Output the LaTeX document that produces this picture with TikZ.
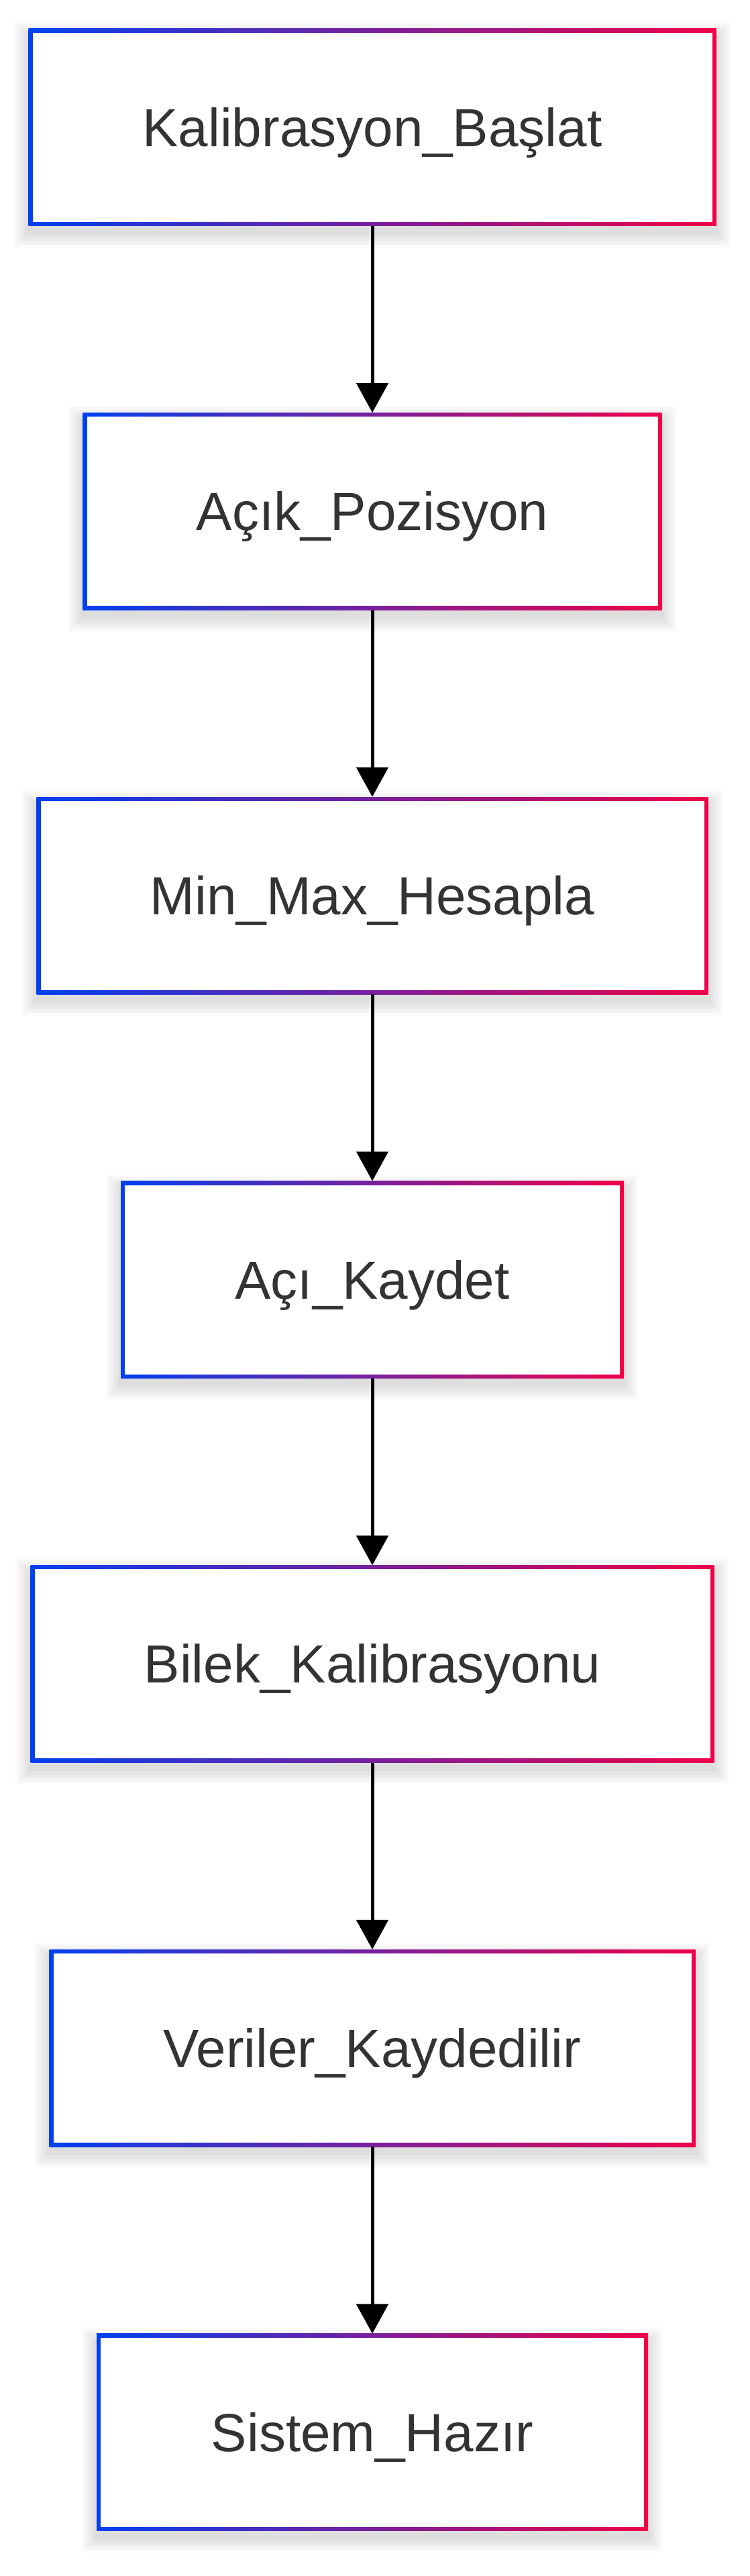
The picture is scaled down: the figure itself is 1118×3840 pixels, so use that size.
\documentclass[tikz,border=0pt]{standalone}
\usepackage{fontspec}
\setmainfont{Liberation Sans}
\usetikzlibrary{arrows.meta,backgrounds}
\definecolor{cBlue}{HTML}{0040F0}
\definecolor{cRed}{HTML}{F00048}
\definecolor{cText}{HTML}{333333}
\tikzset{
  flowbox/.style={
    rectangle, inner sep=0pt, minimum height=294pt,
    text height=57pt, text depth=0pt,
    left color=cBlue, right color=cRed,
    path picture={\fill[white]
      ([shift={(6pt,6pt)}]path picture bounding box.south west) rectangle
      ([shift={(-6pt,-6pt)}]path picture bounding box.north east);},
    font=\fontsize{80}{96}\selectfont, text=cText
  },
  shadowlayer/.style={fill=black, fill opacity=0.011, draw=none},
  flowarrow/.style={line width=5pt, draw=black, -{Triangle[width=47pt,length=44pt]}}
}
\begin{document}
\begin{tikzpicture}[x=1pt,y=-1pt]
  \useasboundingbox (0,0) rectangle (1118,3840);
  \node[flowbox, minimum width=1025pt] (n1) at (555,189.6) {Kalibrasyon\_Başlat};
  \node[flowbox, minimum width=863pt]  (n2) at (555,762.3) {Açık\_Pozisyon};
  \node[flowbox, minimum width=1001pt] (n3) at (555,1335.0) {Min\_Max\_Hesapla};
  \node[flowbox, minimum width=750pt]  (n4) at (555,1907.7) {Açı\_Kaydet};
  \node[flowbox, minimum width=1019pt] (n5) at (555,2480.4) {Bilek\_Kalibrasyonu};
  \node[flowbox, minimum width=963pt]  (n6) at (555,3053.1) {Veriler\_Kaydedilir};
  \node[flowbox, minimum width=822pt]  (n7) at (555,3625.8) {Sistem\_Hazır};
  \draw[flowarrow] (n1.south) -- (n2.north);
  \draw[flowarrow] (n2.south) -- (n3.north);
  \draw[flowarrow] (n3.south) -- (n4.north);
  \draw[flowarrow] (n4.south) -- (n5.north);
  \draw[flowarrow] (n5.south) -- (n6.north);
  \draw[flowarrow] (n6.south) -- (n7.north);
  \begin{pgfonlayer}{background}
    \fill[white] (0,0) rectangle (1118,3840);
    \foreach \n in {n1,n2,n3,n4,n5,n6,n7} {
      \foreach \r in {2,4,...,22} {
        \fill[shadowlayer]
          ([xshift=-\r pt, yshift=\r pt - 12pt]\n.north west) rectangle
          ([xshift=\r pt, yshift=-\r pt - 10pt]\n.south east);
      }
    }
  \end{pgfonlayer}
\end{tikzpicture}
\end{document}
